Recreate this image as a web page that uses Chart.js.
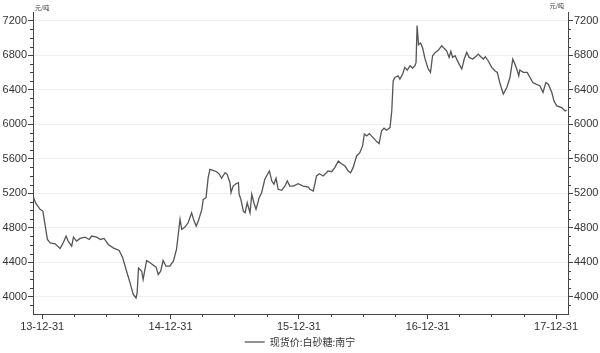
<!DOCTYPE html>
<html>
<head>
<meta charset="utf-8">
<script src="https://cdn.jsdelivr.net/npm/chart.js@4.4.0/dist/chart.umd.min.js"></script>
<style>
    html, body { margin: 0; padding: 0; background: #fff; }
    #wrap { width: 600px; height: 353px; position: relative; }
</style>
</head>
<body>
<div id="wrap"><canvas id="sugar-chart"></canvas></div>
<script>
// Spot price series
const seriesName = '现货价:白砂糖:南宁';
const unitLabel = '元/吨';

const dates = [
    '2013-12-05', '2013-12-12', '2013-12-25', '2014-01-02', '2014-01-08', '2014-01-15', '2014-01-23',
    '2014-02-06', '2014-02-20', '2014-03-01', '2014-03-09', '2014-03-15', '2014-03-25', '2014-03-30',
    '2014-04-08', '2014-04-18', '2014-05-02', '2014-05-14', '2014-05-21', '2014-06-04', '2014-06-15',
    '2014-06-25', '2014-07-07', '2014-07-21', '2014-08-07', '2014-08-17', '2014-08-28', '2014-09-07',
    '2014-09-16', '2014-09-24', '2014-09-27', '2014-10-01', '2014-10-10', '2014-10-14', '2014-10-24',
    '2014-11-03', '2014-11-12', '2014-11-20', '2014-11-26', '2014-12-03', '2014-12-10', '2014-12-18',
    '2014-12-29', '2015-01-08', '2015-01-17', '2015-01-22', '2015-01-27', '2015-02-01', '2015-02-10',
    '2015-02-19', '2015-03-01', '2015-03-08', '2015-03-14', '2015-03-20', '2015-03-30', '2015-04-03',
    '2015-04-11', '2015-04-17', '2015-04-22', '2015-05-01', '2015-05-11', '2015-05-19', '2015-05-25',
    '2015-06-04', '2015-06-10', '2015-06-18', '2015-06-21', '2015-06-27', '2015-07-05', '2015-07-12',
    '2015-07-14', '2015-07-19', '2015-07-26', '2015-07-31', '2015-08-06', '2015-08-14', '2015-08-19',
    '2015-08-25', '2015-08-31', '2015-09-04', '2015-09-09', '2015-09-16', '2015-09-25', '2015-10-08',
    '2015-10-15', '2015-10-21', '2015-10-27', '2015-11-02', '2015-11-12', '2015-11-21', '2015-11-28',
    '2015-12-05', '2015-12-15', '2015-12-29', '2016-01-12', '2016-01-27', '2016-01-31', '2016-02-10',
    '2016-02-19', '2016-02-27', '2016-03-09', '2016-03-23', '2016-04-02', '2016-04-11', '2016-04-21',
    '2016-04-30', '2016-05-10', '2016-05-19', '2016-05-26', '2016-06-02', '2016-06-12', '2016-06-21',
    '2016-06-29', '2016-07-04', '2016-07-11', '2016-07-18', '2016-07-29', '2016-08-08', '2016-08-15',
    '2016-08-22', '2016-08-29', '2016-09-05', '2016-09-15', '2016-09-20', '2016-09-24', '2016-09-29',
    '2016-10-08', '2016-10-13', '2016-10-21', '2016-10-27', '2016-11-03', '2016-11-11', '2016-11-18',
    '2016-11-25', '2016-11-28', '2016-12-01', '2016-12-05', '2016-12-11', '2016-12-17', '2016-12-23',
    '2017-01-01', '2017-01-08', '2017-01-14', '2017-01-22', '2017-01-30', '2017-02-09', '2017-02-15',
    '2017-02-23', '2017-03-02', '2017-03-07', '2017-03-12', '2017-03-19', '2017-03-28', '2017-04-07',
    '2017-04-14', '2017-04-21', '2017-04-28', '2017-05-08', '2017-05-14', '2017-05-24', '2017-05-31',
    '2017-06-07', '2017-06-13', '2017-06-21', '2017-07-01', '2017-07-10', '2017-07-17', '2017-07-24',
    '2017-08-03', '2017-08-13', '2017-08-22', '2017-08-30', '2017-09-05', '2017-09-12', '2017-09-16',
    '2017-09-19', '2017-09-29', '2017-10-10', '2017-10-18', '2017-10-26', '2017-11-04', '2017-11-15',
    '2017-11-24', '2017-12-02', '2017-12-09', '2017-12-19', '2017-12-25', '2018-01-02', '2018-01-16',
    '2018-01-26', '2018-01-30'
];

const prices = [
    5167, 5090, 5013, 4993, 4839, 4664, 4625,
    4613, 4560, 4625, 4703, 4645, 4587, 4690,
    4645, 4676, 4690, 4664, 4703, 4690, 4664,
    4676, 4606, 4567, 4537, 4451, 4296, 4160,
    4026, 3986, 4044, 4334, 4296, 4200, 4420,
    4393, 4366, 4343, 4258, 4296, 4420, 4354,
    4354, 4412, 4548, 4722, 4897, 4780, 4807,
    4857, 4973, 4877, 4819, 4877, 5013, 5129,
    5148, 5380, 5477, 5465, 5449, 5419, 5373,
    5438, 5419, 5322, 5206, 5283, 5310, 5322,
    5187, 5129, 4993, 4973, 5089, 4973, 5187,
    5089, 5013, 5071, 5148, 5206, 5361, 5458,
    5341, 5303, 5373, 5245, 5234, 5283, 5341,
    5283, 5283, 5310, 5283, 5272, 5245, 5225,
    5400, 5426, 5400, 5458, 5449, 5496, 5574,
    5542, 5516, 5458, 5438, 5496, 5632, 5670,
    5748, 5884, 5864, 5891, 5844, 5798, 5775,
    5922, 5953, 5930, 5960, 6154, 6503, 6541,
    6561, 6523, 6581, 6658, 6627, 6677, 6650,
    6677, 6716, 7142, 6920, 6940, 6880, 6765,
    6645, 6600, 6793, 6832, 6855, 6909, 6882,
    6851, 6774, 6844, 6774, 6793, 6716, 6639,
    6755, 6832, 6774, 6755, 6774, 6812, 6782,
    6755, 6782, 6735, 6658, 6619, 6600, 6483,
    6348, 6425, 6541, 6755, 6697, 6619, 6561,
    6627, 6600, 6600, 6541, 6483, 6464, 6445,
    6367, 6483, 6464, 6367, 6271, 6212, 6193,
    6154, 6162
];

// Axis ticks
const xTickDates = ['2013-12-31', '2014-12-31', '2015-12-31', '2016-12-31', '2017-12-31'];
const xMinorDates = [
    '2014-03-31', '2014-06-30', '2014-09-30',
    '2015-03-31', '2015-06-30', '2015-09-30',
    '2016-03-31', '2016-06-30', '2016-09-30',
    '2017-03-31', '2017-06-30', '2017-09-30'
];
const yTicks = [4000, 4400, 4800, 5200, 5600, 6000, 6400, 6800, 7200];
const yMinorTicks = [
    3900, 4100, 4200, 4300, 4500, 4600, 4700, 4900, 5000, 5100, 5300, 5400, 5500,
    5700, 5800, 5900, 6100, 6200, 6300, 6500, 6600, 6700, 6900, 7000, 7100
];

const xMin = '2013-12-05';
const xMax = '2018-02-03';

const toMs = d => Date.parse(d + 'T00:00:00Z');
const pad2 = n => String(n).padStart(2, '0');
function fmtDate(ms) {
    const d = new Date(ms);
    return pad2(d.getUTCFullYear() % 100) + '-' + pad2(d.getUTCMonth() + 1) + '-' + pad2(d.getUTCDate());
}

const axisColor = '#444';
const tickFont = { family: 'Liberation Sans, Arial, sans-serif', size: 11 };

// minor tick marks + unit labels
const extrasPlugin = {
    id: 'extras',
    afterDraw(chart) {
        const ctx = chart.ctx;
        const area = chart.chartArea;
        const x = chart.scales.x;
        const yl = chart.scales.y;
        const yr = chart.scales.y2;
        ctx.save();
        ctx.strokeStyle = axisColor;
        ctx.lineWidth = 1;
        ctx.beginPath();
        yMinorTicks.forEach(v => {
            const py = Math.round(yl.getPixelForValue(v)) + 0.5;
            ctx.moveTo(area.left - 3, py);
            ctx.lineTo(area.left, py);
            const pr = Math.round(yr.getPixelForValue(v)) + 0.5;
            ctx.moveTo(area.right, pr);
            ctx.lineTo(area.right + 3, pr);
        });
        xMinorDates.forEach(d => {
            const px = Math.round(x.getPixelForValue(toMs(d))) + 0.5;
            ctx.moveTo(px, area.bottom);
            ctx.lineTo(px, area.bottom + 3);
        });
        ctx.stroke();

        ctx.fillStyle = '#333';
        ctx.font = '6px "Noto Sans CJK SC", sans-serif';
        ctx.textBaseline = 'bottom';
        ctx.textAlign = 'left';
        ctx.fillText(unitLabel, area.left + 2, area.top - 1);
        ctx.textAlign = 'right';
        ctx.fillText(unitLabel, area.right - 4, area.top - 3);
        ctx.restore();
    }
};

const ctx = document.getElementById('sugar-chart');

new Chart(ctx, {
    type: 'line',
    data: {
        datasets: [{
            label: seriesName,
            data: dates.map((d, i) => ({ x: toMs(d), y: prices[i] })),
            borderColor: '#555',
            borderWidth: 1.3,
            pointRadius: 0,
            tension: 0,
            fill: false
        }]
    },
    options: {
        responsive: true,
        maintainAspectRatio: false,
        animation: false,
        layout: {
            padding: { top: 12, left: 0, right: 0, bottom: -4 }
        },
        scales: {
            x: {
                type: 'linear',
                min: toMs(xMin),
                max: toMs(xMax),
                afterBuildTicks: scale => {
                    scale.ticks = xTickDates.map(d => ({ value: toMs(d) }));
                },
                afterFit: scale => { scale.height = 21; },
                ticks: {
                    callback: v => fmtDate(v),
                    color: '#333',
                    font: tickFont,
                    padding: 1,
                    maxRotation: 0,
                    autoSkip: false
                },
                grid: { drawOnChartArea: false, tickLength: 5, tickColor: axisColor },
                border: { display: true, color: axisColor, width: 1 }
            },
            y: {
                position: 'left',
                min: 3800,
                max: 7300,
                afterBuildTicks: scale => {
                    scale.ticks = yTicks.map(v => ({ value: v }));
                },
                afterFit: scale => { scale.width = 33; },
                ticks: { color: '#333', font: tickFont, padding: 1, callback: v => String(v) },
                grid: { color: '#efefef', tickLength: 5, tickColor: axisColor },
                border: { display: true, color: axisColor, width: 1 }
            },
            y2: {
                position: 'right',
                min: 3800,
                max: 7300,
                afterBuildTicks: scale => {
                    scale.ticks = yTicks.map(v => ({ value: v }));
                },
                afterFit: scale => { scale.width = 32; },
                ticks: { color: '#333', font: tickFont, padding: 1, callback: v => String(v) },
                grid: { drawOnChartArea: false, tickLength: 5, tickColor: axisColor },
                border: { display: true, color: axisColor, width: 1 }
            }
        },
        plugins: {
            legend: {
                position: 'bottom',
                labels: {
                    usePointStyle: true,
                    pointStyle: 'line',
                    pointStyleWidth: 20,
                    color: '#333',
                    padding: 2,
                    font: { family: '"Noto Sans CJK SC", sans-serif', size: 10 }
                }
            },
            tooltip: { enabled: false }
        }
    },
    plugins: [extrasPlugin]
});
</script>
</body>
</html>
